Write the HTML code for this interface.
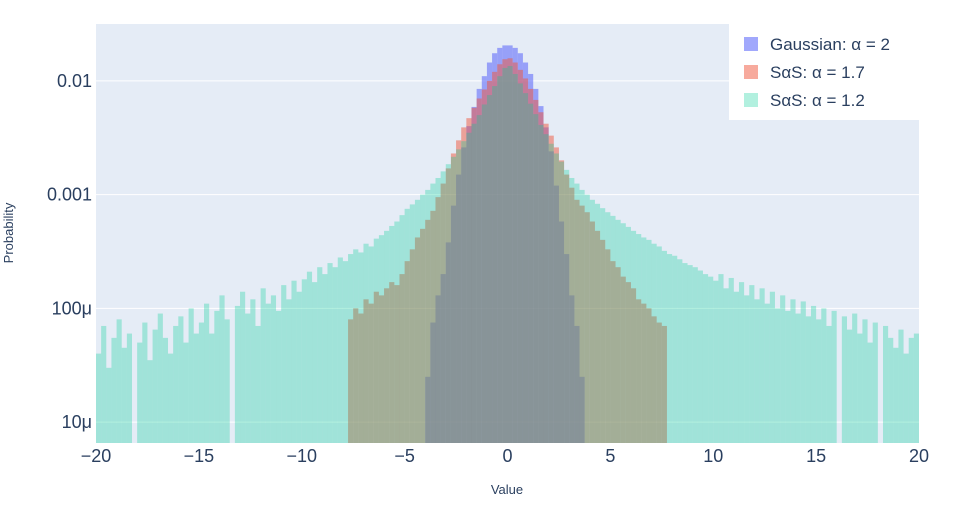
<!DOCTYPE html>
<html><head><meta charset="utf-8"><style>
body{margin:0;background:#fff;}
svg{display:block;font-family:"Liberation Sans",sans-serif;}
</style></head><body>
<svg id="chart" width="970" height="508" viewBox="0 0 970 508">
<rect x="96" y="24" width="823" height="419" fill="#e5ecf6"/>
<g id="grid"></g><g id="bars"></g><g id="axes"></g>
<text x="507" y="494" font-size="13" fill="#2a3f5f" text-anchor="middle">Value</text>
<text x="13" y="233" font-size="13" fill="#2a3f5f" text-anchor="middle" transform="rotate(-90 13 233)">Probability</text>
<g>
<rect x="729" y="24" width="190" height="96" fill="#fff"/>
<g><rect x="744" y="37" width="14" height="14" fill="#636efa" fill-opacity="0.6"/><text x="770" y="50" font-size="17" fill="#2a3f5f">Gaussian: α = 2</text></g>
<g><rect x="744" y="65" width="14" height="14" fill="#EF553B" fill-opacity="0.5"/><text x="770" y="78" font-size="17" fill="#2a3f5f">SαS: α = 1.7</text></g>
<g><rect x="744" y="93" width="14" height="14" fill="#00cc96" fill-opacity="0.3"/><text x="770" y="106" font-size="17" fill="#2a3f5f">SαS: α = 1.2</text></g>
</g>
</svg>
<script>
// values in micro-units (×1e-6), bin width 0.25
const binWidth = 0.25;
const gaussStart = -4;
const gaussValues = [25,75,130,200,380,800,1500,2600,4000,5900,8500,11000,14500,17500,19500,20500,20500,19500,17500,14500,11500,8500,6000,3900,2400,1200,580,300,130,70,25];
const sas17Start = -7.75;
const sas17Values = [80,100,90,120,110,140,130,150,170,160,200,
260,330,420,500,600,720,950,1250,
1700,2300,3000,3900,4700,5800,7000,8400,10000,12000,14000,15500,
15800,14500,12500,10500,8500,6800,5300,4200,3300,2600,2000,1500,
1150,900,800,700,580,480,400,330,
260,230,190,170,150,120,110,100,85,75,70];
const sas12Start = -20;
const sas12Values = [40,70,30,55,80,45,60,0,50,75,35,65,90,55,40,70,85,50,100,60,
75,110,60,95,130,80,0,105,140,90,120,70,150,110,130,95,160,120,175,140,
180,210,170,230,200,250,230,280,260,300,330,310,370,350,410,440,480,530,580,660,
750,820,900,1000,1100,1250,1400,1600,1850,2150,2500,2950,3500,4200,5000,6200,7500,9000,11000,13000,
13500,11500,9500,7800,6300,5100,4100,3400,2800,2300,1950,1650,1400,1250,1100,1000,900,830,760,700,
650,600,560,520,480,450,420,400,370,350,320,300,290,270,250,240,230,215,200,190,
175,200,150,185,140,170,130,160,120,150,110,140,100,130,95,120,90,115,85,105,
80,100,70,95,0,85,65,90,60,80,50,75,0,70,55,45,65,40,55,60];
const yTickVals = [1e-5,1e-4,1e-3,1e-2];
const yTickLabels = ["10μ","100μ","0.001","0.01"];
const xTickVals = [-20,-15,-10,-5,0,5,10,15,20];

const NS="http://www.w3.org/2000/svg";
const X0=96,X1=919,Y0=443,Y1=24,xMin=-20,xMax=20,lMin=-5.184,lMax=-1.5;
function xs(v){return X0+(v-xMin)/(xMax-xMin)*(X1-X0);}
function ys(v){return Y0-(Math.log10(v)-lMin)/(lMax-lMin)*(Y0-Y1);}
function mk(tag,attrs,parent){const e=document.createElementNS(NS,tag);for(const k in attrs)e.setAttribute(k,attrs[k]);parent.appendChild(e);return e;}
const grid=document.getElementById('grid'),bars=document.getElementById('bars'),axes=document.getElementById('axes');
yTickVals.forEach((v,i)=>{
  const y=ys(v);
  const l=mk('line',{x1:X0,x2:X1,y1:y,y2:y,stroke:'#fff','stroke-width':1},grid);
  
  
  const t=mk('text',{x:92,y:y+6,'font-size':18,fill:'#2a3f5f','text-anchor':'end'},axes);
  t.textContent=yTickLabels[i];
  
  
});
xTickVals.forEach(v=>{
  const t=mk('text',{x:xs(v),y:462,'font-size':18,fill:'#2a3f5f','text-anchor':'middle'},axes);
  t.textContent=(v<0?'\u2212'+(-v):''+v);
  
  
});
function series(start,vals,color,op,name){
  const g=mk('g',{fill:color,'fill-opacity':op},bars);
  
  
  vals.forEach((v,i)=>{
    if(v<=0)return;
    const a=xs(start+i*binWidth),b=xs(start+(i+1)*binWidth);
    const y=Math.max(Y1,ys(v*1e-6));
    const r=mk('rect',{x:a,y:y,width:b-a,height:Math.max(0,Y0-y)},g);
    
    
  });
}
series(gaussStart,gaussValues,'#636efa',0.6,'series-gaussian');
series(sas17Start,sas17Values,'#EF553B',0.5,'series-sas-1-7');
series(sas12Start,sas12Values,'#00cc96',0.3,'series-sas-1-2');
</script>
</body></html>
